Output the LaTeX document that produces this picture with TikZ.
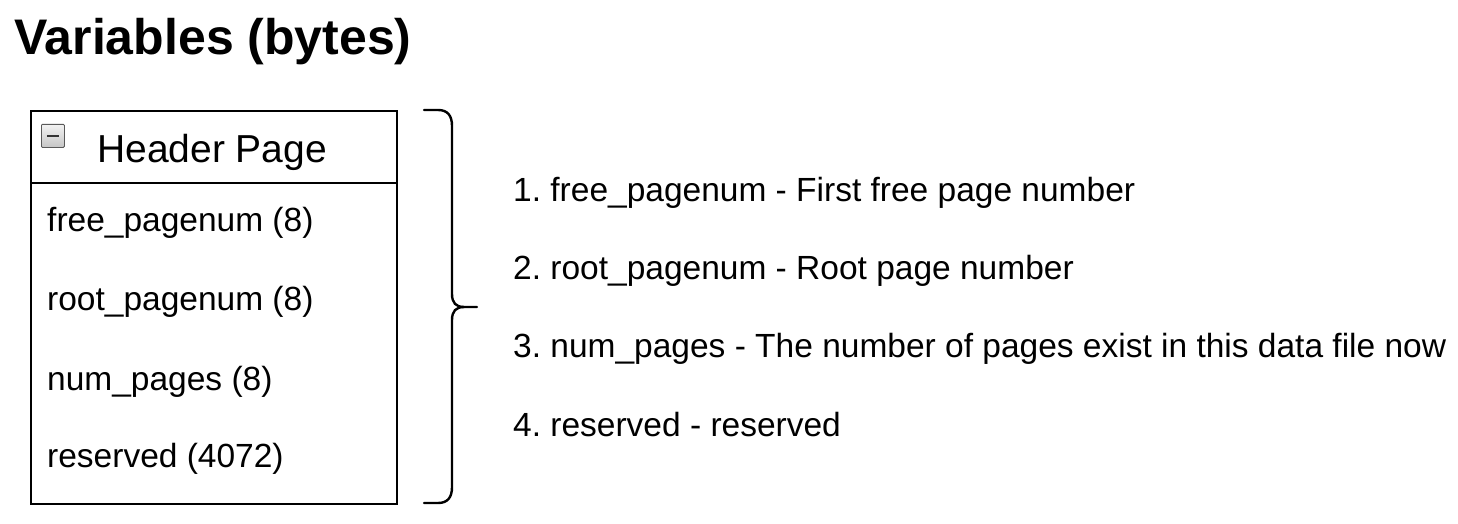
\documentclass[tikz,border=0pt]{standalone}
\usepackage{fontspec}
\setmainfont{Liberation Sans}
\begin{document}
\frenchspacing
\begin{tikzpicture}[x=1pt,y=-1pt,
  title/.style={anchor=base west,inner sep=0pt,font=\fontsize{50}{60}\selectfont\bfseries},
  head/.style={anchor=base west,inner sep=0pt,font=\fontsize{39}{46}\selectfont},
  row/.style={anchor=base west,inner sep=0pt,font=\fontsize{33.5}{40}\selectfont},
  desc/.style={anchor=base west,inner sep=0pt,font=\fontsize{33.5}{40}\selectfont},
  frame/.style={draw=black,line width=2pt},
  bracestyle/.style={draw=black,line width=2.4pt,line cap=round}]
\useasboundingbox (0,0) rectangle (1458,524);
\node[title] (title) at (14,55) {Variables (bytes)};
\node[frame,minimum width=366pt,minimum height=393pt,anchor=north west,inner sep=0pt] (box) at (30,110) {};
\coordinate (divL) at (30,183);
\coordinate (divR) at (396,183);
\draw[frame] (divL) -- (divR);
\node[draw=gray!70!black,top color=gray!10,bottom color=gray!45,line width=0.8pt,minimum size=23pt,inner sep=0pt,anchor=north west,rounded corners=1pt] (icon) at (41,124) {};
\draw[line width=2pt,black!80] ([xshift=-6pt]icon.center) -- ([xshift=6pt]icon.center);
\node[head] (hp) at (97,162) {Header Page};
\node[row] (r1) at (47,231) {free\_pagenum (8)};
\node[row] (r2) at (47,310) {root\_pagenum (8)};
\node[row] (r3) at (47,390) {num\_pages (8)};
\node[row] (r4) at (47,467) {reserved (4072)};
\coordinate (bt) at (424,110);
\coordinate (bb) at (424,503);
\coordinate (tip) at (477,307);
\draw[bracestyle] (bt) -- (438,110) .. controls (448,110) and (452,116) .. (452,126)
  -- (452,294) .. controls (452,303) and (456,307) .. (464,307) -- (tip);
\draw[bracestyle] (bb) -- (438,503) .. controls (448,503) and (452,497) .. (452,487)
  -- (452,320) .. controls (452,311) and (456,307) .. (464,307);
\node[desc] (d1) at (513,201) {1. free\_pagenum - First free page number};
\node[desc] (d2) at (513,279) {2. root\_pagenum - Root page number};
\node[desc] (d3) at (513,357) {3. num\_pages - The number of pages exist in this data file now};
\node[desc] (d4) at (513,436) {4. reserved - reserved};
\end{tikzpicture}
\end{document}
